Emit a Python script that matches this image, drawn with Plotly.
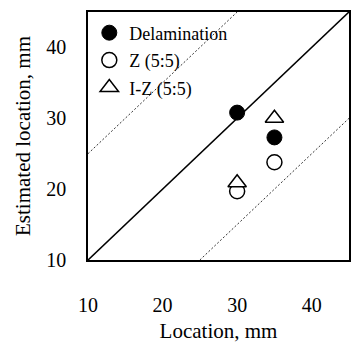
import plotly.graph_objects as go

# Data
delam_x = [30, 35]
delam_y = [30.8, 27.3]
z_x = [30, 35]
z_y = [19.7, 23.8]
iz_x = [30, 35]
iz_y = [20.9, 30.0]

# reference lines: y = x, y = x + 15, y = x - 15 (clipped to axis range)
ident_x = [10, 45]
ident_y = [10, 45]
upper_x = [10, 30]
upper_y = [25, 45]
lower_x = [25, 45]
lower_y = [10, 30]

tick_vals = [10, 20, 30, 40]
axis_range = [10, 45]

FONT = "Liberation Serif, Times New Roman, serif"

fig = go.Figure()
fig.add_trace(go.Scatter(x=ident_x, y=ident_y, mode="lines",
                         line=dict(color="black", width=1.6), showlegend=False, hoverinfo="skip"))
fig.add_trace(go.Scatter(x=upper_x, y=upper_y, mode="lines",
                         line=dict(color="#333", width=1, dash="2px,2px"), showlegend=False, hoverinfo="skip"))
fig.add_trace(go.Scatter(x=lower_x, y=lower_y, mode="lines",
                         line=dict(color="#333", width=1, dash="2px,2px"), showlegend=False, hoverinfo="skip"))

fig.add_trace(go.Scatter(x=delam_x, y=delam_y, mode="markers", name="Delamination", legendgroup="a",
                         marker=dict(symbol="circle", size=15, color="black",
                                     line=dict(color="black", width=1))))
fig.add_trace(go.Scatter(x=z_x, y=z_y, mode="markers", name="Z (5:5)", legendgroup="b",
                         marker=dict(symbol="circle", size=15, color="white",
                                     line=dict(color="black", width=1.5))))
fig.add_trace(go.Scatter(x=iz_x, y=iz_y, mode="markers", name="I-Z (5:5)", legendgroup="c",
                         marker=dict(symbol="triangle-up", size=16, color="white",
                                     line=dict(color="black", width=1.5))))

fig.update_layout(
    width=352, height=343,
    margin=dict(l=88, r=3, t=12, b=83),
    paper_bgcolor="white", plot_bgcolor="white",
    font=dict(family=FONT, size=20, color="black"),
    legend=dict(x=0.005, y=0.99, xanchor="left", yanchor="top",
                bgcolor="rgba(0,0,0,0)", font=dict(family=FONT, size=18),
                itemwidth=30, traceorder="grouped", tracegroupgap=1),
)
fig.update_xaxes(range=axis_range, tickvals=tick_vals, showgrid=False, zeroline=False,
                 showline=True, linecolor="black", linewidth=1.5, mirror=True,
                 ticks="", ticklabelstandoff=26, automargin=False,
                 title=dict(text="Location, mm", standoff=25, font=dict(size=21)))
fig.update_yaxes(range=axis_range, tickvals=tick_vals, showgrid=False, zeroline=False,
                 showline=True, linecolor="black", linewidth=1.5, mirror=True,
                 ticks="", ticklabelstandoff=16, automargin=False,
                 title=dict(text="Estimated location, mm", standoff=10, font=dict(size=21)))

fig.write_html("out.html")
